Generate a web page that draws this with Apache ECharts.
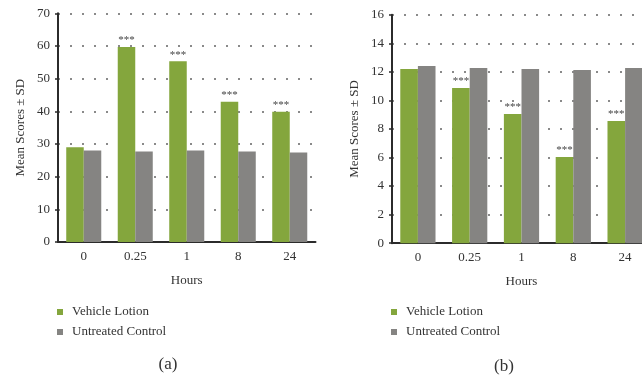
<!DOCTYPE html>
<html>
<head>
<meta charset="utf-8">
<title>Mean scores by hour</title>
<script src="https://cdn.jsdelivr.net/npm/echarts@6/dist/echarts.min.js"></script>
<style>
  html, body { margin: 0; padding: 0; background: #fff; }
  #chart { width: 642px; height: 379px; }
</style>
</head>
<body>
<div id="chart"></div>
<script>
// Time points (hours)
const hours = ['0', '0.25', '1', '8', '24'];
const seriesNames = ['Vehicle Lotion', 'Untreated Control'];

// Panel (a)
const lotionA = [29.0, 59.7, 55.3, 42.9, 39.9];
const controlA = [28.0, 27.7, 28.0, 27.7, 27.4];
const sigA = ['', '***', '***', '***', '***'];

// Panel (b)
const lotionB = [12.2, 10.86, 9.04, 6.03, 8.55];
const controlB = [12.4, 12.26, 12.19, 12.12, 12.26];
const sigB = ['', '***', '***', '***', '***'];

const panelTitles = ['(a)', '(b)'];
const yTicksA = { max: 70, interval: 10 };
const yTicksB = { max: 16, interval: 2 };

const FONT = '"Liberation Serif", "DejaVu Serif", serif';
const TEXT = '#333333';
const GREEN = '#84a63d';
const GREY = '#858482';

function xAxis(gridIndex) {
  return {
    type: 'category',
    gridIndex: gridIndex,
    data: hours,
    name: 'Hours',
    nameLocation: 'middle',
    nameGap: 32,
    nameTextStyle: { fontFamily: FONT, fontSize: 13, color: TEXT },
    axisLine: { lineStyle: { color: '#2b2b2b', width: 2 } },
    axisTick: { show: false },
    axisLabel: { fontFamily: FONT, fontSize: 13, color: TEXT, margin: 8 },
    splitLine: { show: false }
  };
}

function yAxis(gridIndex, ticks) {
  return {
    type: 'value',
    gridIndex: gridIndex,
    min: 0,
    max: ticks.max,
    interval: ticks.interval,
    name: 'Mean Scores \u00b1 SD',
    nameLocation: 'middle',
    nameGap: 31,
    nameTextStyle: { fontFamily: FONT, fontSize: 13, color: TEXT },
    axisLine: { show: true, lineStyle: { color: '#2b2b2b', width: 2 } },
    axisTick: { show: true, length: 3, lineStyle: { color: '#2b2b2b', width: 1.5 } },
    axisLabel: { fontFamily: FONT, fontSize: 13, color: TEXT, margin: 8 },
    splitLine: {
      show: true,
      lineStyle: { color: '#8a8a8a', width: 2, type: [2, 10], dashOffset: 0 }
    }
  };
}

function bars(name, values, color, axisIndex, marks) {
  const s = {
    name: name,
    type: 'bar',
    xAxisIndex: axisIndex,
    yAxisIndex: axisIndex,
    data: values,
    itemStyle: { color: color },
    barGap: '0%',
    barCategoryGap: '32%'
  };
  if (marks) {
    s.label = {
      show: true,
      position: 'top',
      distance: 1,
      fontFamily: FONT,
      fontSize: 11,
      color: '#444',
      formatter: p => marks[p.dataIndex]
    };
  }
  return s;
}

function legend(left) {
  return {
    orient: 'vertical',
    left: left,
    top: 305,
    padding: 0,
    icon: 'rect',
    itemWidth: 6,
    itemHeight: 6,
    itemGap: 6,
    data: seriesNames,
    selectedMode: false,
    textStyle: { fontFamily: FONT, fontSize: 13, color: TEXT, lineHeight: 14, padding: [0, 0, 0, 4] }
  };
}

const chart = echarts.init(document.getElementById('chart'), null, { renderer: 'canvas' });
chart.setOption({
  animation: false,
  backgroundColor: '#ffffff',
  title: [
    { text: panelTitles[0], left: 163, top: 351, textAlign: 'center',
      textStyle: { fontFamily: FONT, fontSize: 17, fontWeight: 'normal', color: TEXT } },
    { text: panelTitles[1], left: 499, top: 353, textAlign: 'center',
      textStyle: { fontFamily: FONT, fontSize: 17, fontWeight: 'normal', color: TEXT } }
  ],
  legend: [legend(57), legend(391)],
  grid: [
    { left: 58, top: 13.3, width: 257.5, height: 228.7, outerBoundsMode: 'none' },
    { left: 392, top: 14.7, width: 259, height: 228.5, outerBoundsMode: 'none' }
  ],
  xAxis: [xAxis(0), xAxis(1)],
  yAxis: [yAxis(0, yTicksA), yAxis(1, yTicksB)],
  series: [
    bars(seriesNames[0], lotionA, GREEN, 0, sigA),
    bars(seriesNames[1], controlA, GREY, 0, null),
    bars(seriesNames[0], lotionB, GREEN, 1, sigB),
    bars(seriesNames[1], controlB, GREY, 1, null)
  ]
});
</script>
</body>
</html>
